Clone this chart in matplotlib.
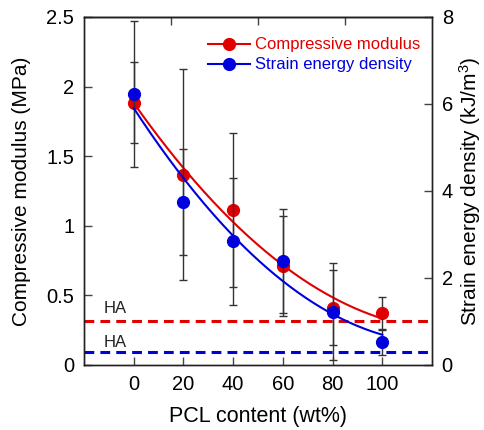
import numpy as np
import matplotlib
matplotlib.use('Agg')
import matplotlib.pyplot as plt
from matplotlib.ticker import FuncFormatter

plt.rcParams['font.family'] = ['Liberation Sans', 'DejaVu Sans']
plt.rcParams['mathtext.fontset'] = 'custom'
plt.rcParams['mathtext.rm'] = 'Liberation Sans'
plt.rcParams['mathtext.it'] = 'Liberation Sans:italic'

# PCL content (wt%)
pcl = np.array([0, 20, 40, 60, 80, 100])

# compressive modulus (MPa), left axis
modulus = np.array([1.885, 1.368, 1.112, 0.713, 0.411, 0.371])
modulus_err = np.array([0.29, 0.756, 0.553, 0.36, 0.27, 0.12])

# strain energy density (kJ/m^3), right axis
energy = np.array([6.23, 3.74, 2.84, 2.39, 1.225, 0.536])
energy_err = np.array([1.67, 1.22, 1.46, 1.19, 1.11, 0.30])

# HA reference levels
ha_modulus = 0.316
ha_energy = 0.306

red = '#e00000'
blue = '#0000dd'
ecol = '#333333'

fig = plt.figure(figsize=(4.84, 4.30), dpi=100)
ax1 = fig.add_axes([0.1736, 0.1512, 0.719, 0.8093])
ax2 = ax1.twinx()

# quadratic trend lines fitted to the data
xf = np.linspace(0, 100, 200)
fit_m = np.polyval(np.polyfit(pcl, modulus, 2), xf)
fit_e = np.polyval(np.polyfit(pcl, energy, 2), xf)

ax1.errorbar(pcl, modulus, yerr=modulus_err, fmt='none', ecolor=ecol,
             elinewidth=1, capsize=3, capthick=1, zorder=1)
ax2.errorbar(pcl, energy, yerr=energy_err, fmt='none', ecolor=ecol,
             elinewidth=1, capsize=3, capthick=1, zorder=1)

ax1.axhline(ha_modulus, color=red, lw=2.2, dashes=(3.2, 2.0), zorder=2)
ax2.axhline(ha_energy, color=blue, lw=2.2, dashes=(3.2, 2.0), zorder=2)

ax1.plot(xf, fit_m, color=red, lw=1.5, zorder=3)
ax1.plot(pcl, modulus, 'o', color=red, ms=8.5, zorder=4)
ax2.plot(xf, fit_e, color=blue, lw=1.5, zorder=3)
ax2.plot(pcl, energy, 'o', color=blue, ms=8.5, zorder=4)

ax1.text(-12, 0.37, 'HA', fontsize=12, color='#222222')
ax2.text(-12, 0.42, 'HA', fontsize=12, color='#222222')

ax1.set_xlim(-20, 120)
ax1.set_ylim(0, 2.5)
ax2.set_ylim(0, 8)
ax1.set_xticks(pcl)
ax1.set_yticks([0, 0.5, 1, 1.5, 2, 2.5])
ax2.set_yticks([0, 2, 4, 6, 8])
ax1.yaxis.set_major_formatter(FuncFormatter(lambda v, p: '%g' % v))

ax1.tick_params(axis='both', direction='in', labelsize=14.5, length=6, width=1,
                color='#444444', pad=7)
ax2.tick_params(axis='y', direction='in', labelsize=14.5, length=6, width=1,
                color='#444444', pad=7)

top = ax1.secondary_xaxis('top')
top.set_xticks([15, 50, 85])
top.tick_params(direction='in', length=6, width=1, color='#444444', labeltop=False)

for ax in (ax1, ax2):
    for s in ax.spines.values():
        s.set_color('#222222')
        s.set_linewidth(1)
for s in top.spines.values():
    s.set_color('#222222')
    s.set_linewidth(1)

ax1.set_xlabel('PCL content (wt%)', fontsize=15.5)
ax1.set_ylabel('Compressive modulus (MPa)', fontsize=15)
ax2.set_ylabel('Strain energy density (kJ/m$^3$)', fontsize=15)
ax1.xaxis.set_label_coords(0.5, -0.118)
ax1.yaxis.set_label_coords(-0.153, 0.5)
ax2.yaxis.set_label_coords(1.072, 0.5)

h1 = plt.Line2D([], [], color=red, lw=1.5, marker='o', ms=8.5)
h2 = plt.Line2D([], [], color=blue, lw=1.5, marker='o', ms=8.5)
leg = ax2.legend([h1, h2], ['Compressive modulus', 'Strain energy density'],
                 loc='upper right', bbox_to_anchor=(1.0, 0.975), frameon=False,
                 fontsize=12, handlelength=2.5, handletextpad=0.3,
                 labelspacing=0.3, borderaxespad=0.3)
for t, c in zip(leg.get_texts(), (red, blue)):
    t.set_color(c)

fig.savefig('out.png', dpi=100)
